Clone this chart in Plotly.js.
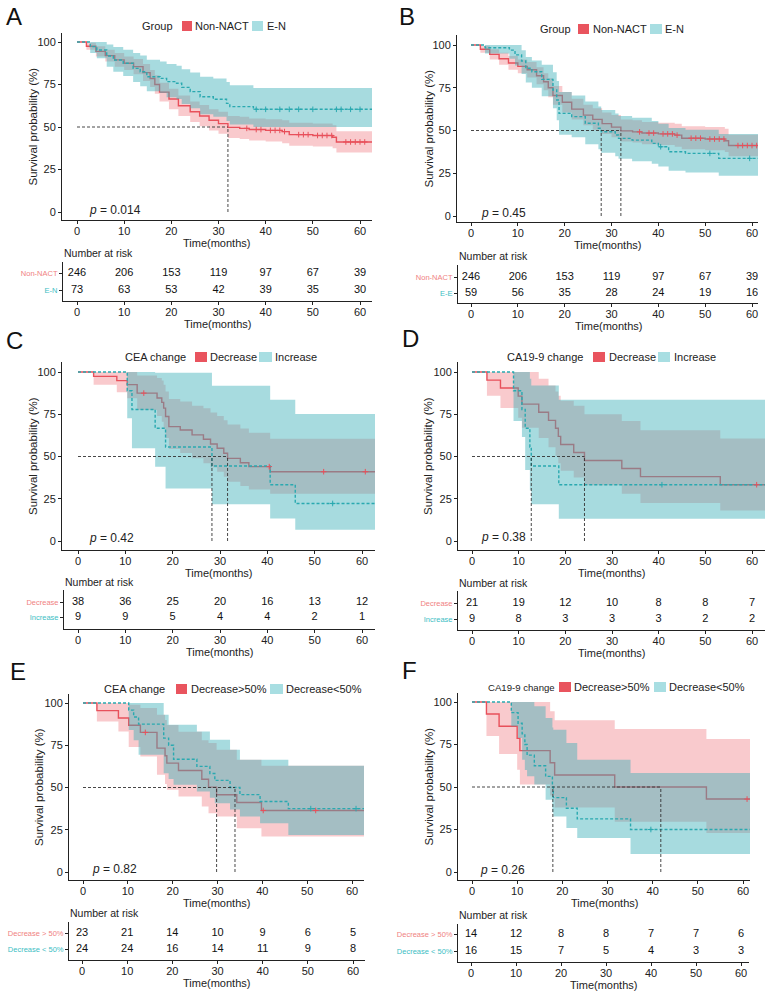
<!DOCTYPE html>
<html><head><meta charset="utf-8">
<script src="https://cdn.plot.ly/plotly-3.0.1.min.js"></script>
<style>html,body{margin:0;padding:0;background:#fff}#chart{width:769px;height:994px}</style>
</head><body><div id="chart"></div>
<script>
// ---------------- DATA ----------------
const timeTicks = [0, 10, 20, 30, 40, 50, 60];
const survTicks = [0, 25, 50, 75, 100];

// Non-NACT (shared by A and B)
const nonNactT  = [0,2,4,6,8,10,12,14,15.5,16.5,17.5,19.5,21.5,24,26,28,30,32,34.5,36.5,40,43.5,45,50,54.2,55,63];
const nonNactS  = [100,97.5,94.5,92,89.5,87.5,85.5,82,78.5,75,70.5,66.5,62.5,59,56.5,54,52,49.8,49.2,48.5,48,47.3,45.5,45,44,41.2,41.2];
const nonNactLo = [100,95.5,91.5,88.5,85.5,83.5,81,77,73.5,69.5,65,60.5,56.5,53,50.5,48,46,43.5,43,42,41.5,40.5,39,38.5,37.5,35,35];
const nonNactHi = [100,99.5,97.5,95.5,93.5,91.5,90,87,83.5,80.5,76,72.5,68.5,65,63,60.5,59,56.5,56,55,54.5,54,52.5,52,51,47.5,47.5];
const nonNactCens = [36,38,39,41,42,43,44,47,48,49,51,52,53,54,57,58,59,60,61];

// A: E-N
const aEnT  = [0,2.8,4.2,6.3,7.7,9.8,11.9,13.4,14.8,17.6,19,21.1,22.2,24,26.1,28.9,31.7,32.4,37.4,63];
const aEnS  = [100,97.3,95.3,91.8,89.4,87.5,84.5,82.5,79.6,78.6,76.7,75.7,73.3,70.8,67.8,66.3,63.9,62,60.4,60.4];
const aEnLo = [100,93.5,90.5,85.5,82.5,80,76.5,74,71,70,67.5,66.5,63.5,61,57.5,56,53.5,51.5,50,50];
const aEnHi = [100,100,100,98.5,97,95.5,93.5,92,89.5,88.5,87,86,84,82,79.5,78.5,76.5,74.5,73,73];
const aEnCens = [38,40,43,45,47,50,55,56,58,60];
const aMedians = [32];

// B: E-N (E-E)
const bEnT  = [0,3,8.2,9.4,10.8,11.7,13,15.1,17.5,18.3,18.8,21.5,24.4,27.2,27.8,30.8,31.5,34.4,38.6,40,42.2,45.8,52.9,63];
const bEnS  = [100,98.4,97,94.2,90.6,86.4,84.4,79.9,73.7,67.8,60,58.1,54.2,51.3,49.3,47.4,45.4,44.4,42.5,40.5,37.6,36.6,33.7,33.7];
const bEnLo = [100,95,92,88,83,78,75,70,63,56,47.5,46,42,39,37,35,33.5,32,30.5,29,26.5,25.5,23.5,23.5];
const bEnHi = [100,100,100,100,97,93,91,88.5,84,79,72.5,70.5,67,64,62,60,58.5,57.5,55.5,54,51.5,50.5,48,48];
const bEnCens = [40.5,51,59.5];
const bMedians = [27.8, 32];

// C: CEA change Decrease / Increase
const cDecT  = [0,3.3,8.2,10.4,12.5,16.7,17.7,18.1,18.5,19.2,21.6,24.1,26.5,28,29.4,30.8,31.6,34.3,36.1,40.6,63];
const cDecS  = [100,97.4,94.9,92.5,87.5,84.6,82,78.6,73.7,67.7,65.7,62.8,60.2,57.4,54.9,51.9,48.9,46.3,44,41,41];
const cDecLo = [100,92.5,88,84.5,77.5,74,70.5,66.5,61,54.5,52,49,46,43.5,41,38,35,32.5,30.5,28,28];
const cDecHi = [100,100,100,100,98,96.5,95,92.5,88.5,84,82.5,80,78.5,76,74,71.5,69,66.5,64,60.5,60.5];
const cDecCens = [13.9,40.4,51.9,60.7];
const cIncT  = [0,10.4,11.4,16.3,18.5,28.3,40.6,45.9,63];
const cIncS  = [100,88.9,77.8,66.7,55.6,44.4,33.3,22.2,22.2];
const cIncLo = [100,72.7,54.9,44,31.1,21.8,13.3,6.7,6.7];
const cIncHi = [100,100,100,99.5,99.5,91.9,83.6,75.2,75.2];
const cIncCens = [53.8];
const cMedians = [28.3, 31.6];

// D: CA19-9 change Decrease / Increase
const dDecT  = [0,3.2,6.1,9.9,10.7,14.3,16.4,17.9,18.5,19,21.8,24.1,32.1,36.1,53.2,63];
const dDecS  = [100,95.2,90.5,85.7,81,76.2,71.4,66.7,61.9,57.1,52.4,47.6,42.9,38.1,33.3,33.3];
const dDecLo = [100,86,78.7,73,67,61,55.5,50.5,46,41.5,37.5,33,28,22.5,18,18];
const dDecHi = [100,100,100,100,100,96,92,88.5,86,83,80,75,71,65.5,60.6,60.6];
const dDecCens = [61];
const dIncT  = [0,8.9,10.7,11.4,12.4,12.7,18.6,63];
const dIncS  = [100,88.9,77.8,66.7,55.6,44.4,33.3,33.3];
const dIncLo = [100,71,61.5,42,30,21.7,13.2,13.2];
const dIncHi = [100,100,100,100,96,92,83.6,83.6];
const dIncCens = [40.7];
const dMedians = [12.7, 24.1];

// E: CEA change Decrease>50% / Decrease<50%
const eGtT  = [0,3.1,7.9,10.2,12.8,16.5,18.3,18.7,21.3,26.5,28,29.8,34.3,39.8,63];
const eGtS  = [100,95.5,91.1,86.8,82.6,73.3,68.8,64.4,60.1,54.9,50.2,45.7,41.1,36.4,36.4];
const eGtLo = [100,89,83.2,74,68.4,57.5,52,48.6,44.7,38.7,34.8,32.8,25.9,21,21];
const eGtHi = [100,100,100,99,97,93,90,87,83,78,76.3,72.3,66.4,62.8,62.8];
const eGtCens = [13.9,40.2,51.9];
const eLtT  = [0,10.2,11.3,12.4,18,19.1,20.2,25.4,28.3,29.4,32.8,35,39.5,45.8,63];
const eLtS  = [100,95.8,91.7,87.5,79.2,75,66.7,62.5,58.3,54.2,50,45.8,41.7,37.5,37.5];
const eLtLo = [100,84,78,69.4,58.5,55,51.6,47.6,44,40.7,37,32.8,28.9,21.9,21.9];
const eLtHi = [100,100,100,100,93,87.2,87.2,83.2,78.3,78.3,72.3,66.4,66.4,62.8,62.8];
const eLtCens = [50.8,60.9];
const eMedians = [29.8, 33.9];

// F: CA19-9 change Decrease>50% / Decrease<50%
const fGtT  = [0,3.2,6,10,10.6,17.3,18.3,31.6,51.9,63];
const fGtS  = [100,92.9,85.7,78.6,71.4,64.3,57.1,50,42.9,42.9];
const fGtLo = [100,80,69.4,60.2,51.4,45,38,29.5,23,23];
const fGtHi = [100,100,100,100,100,94.5,89.2,84.1,78.2,78.2];
const fGtCens = [60.9];
const fLtT  = [0,8.7,10.2,11.1,11.7,12.2,13.8,16.3,17.8,18,20.9,23.3,35.1,63];
const fLtS  = [100,93.75,87.5,81.25,75,68.75,62.5,56.25,50,43.75,37.5,31.25,25,25];
const fLtLo = [100,85.7,78.8,66,60,56.3,51.4,42.5,35,32.7,25.9,20,10.6,10.6];
const fLtHi = [100,100,100,100,100,100,97.5,90.6,85,83.7,75.9,66.1,58.2,58.2];
const fLtCens = [39.6];
const fMedians = [17.9, 41.8];

// Legend / labels
const legendTitles = ['Group','Group','CEA change','CA19-9 change','CEA change','CA19-9 change'];
const redNames  = ['Non-NACT','Non-NACT','Decrease','Decrease','Decrease>50%','Decrease>50%'];
const tealNames = ['E-N','E-N','Increase','Increase','Decrease<50%','Decrease<50%'];
const redRowLabels  = ['Non-NACT','Non-NACT','Decrease','Decrease','Decrease > 50%','Decrease > 50%'];
const tealRowLabels = ['E-N','E-E','Increase','Increase','Decrease < 50%','Decrease < 50%'];
const pValues = ['0.014','0.45','0.42','0.38','0.82','0.26'];
const panelLetters = ['A','B','C','D','E','F'];
const xTitle = 'Time(months)';
const yTitle = 'Survival probability (%)';
const tableTitle = 'Number at risk';

// Number at risk
const riskRed  = [[246,206,153,119,97,67,39],[246,206,153,119,97,67,39],[38,36,25,20,16,13,12],[21,19,12,10,8,8,7],[23,21,14,10,9,6,5],[14,12,8,8,7,7,6]];
const riskTeal = [[73,63,53,42,39,35,30],[59,56,35,28,24,19,16],[9,9,5,4,4,2,1],[9,8,3,3,3,2,2],[24,24,16,14,11,9,8],[16,15,7,5,4,3,3]];

// ---------------- STYLE / LAYOUT ----------------
const W = 769, H = 994;
const FONT = 'Liberation Sans, Arial, Helvetica, sans-serif';
const RED = '#E8505B', TEAL = '#2AA9B0';
const RED_FILL = 'rgba(235,80,90,0.30)', TEAL_FILL = 'rgba(60,175,185,0.45)';
const RED_KEY = '#E9545E', TEAL_KEY = '#A8DEE2';
const RED_LBL = 'rgb(240,130,130)', TEAL_LBL = 'rgb(60,190,196)';
const AX = '#222';
const px = x => x / W, py = y => 1 - y / H;

const curves = [
  {red:[nonNactT,nonNactS,nonNactLo,nonNactHi,nonNactCens], teal:[aEnT,aEnS,aEnLo,aEnHi,aEnCens], med:aMedians},
  {red:[nonNactT,nonNactS,nonNactLo,nonNactHi,nonNactCens], teal:[bEnT,bEnS,bEnLo,bEnHi,bEnCens], med:bMedians},
  {red:[cDecT,cDecS,cDecLo,cDecHi,cDecCens], teal:[cIncT,cIncS,cIncLo,cIncHi,cIncCens], med:cMedians},
  {red:[dDecT,dDecS,dDecLo,dDecHi,dDecCens], teal:[dIncT,dIncS,dIncLo,dIncHi,dIncCens], med:dMedians},
  {red:[eGtT,eGtS,eGtLo,eGtHi,eGtCens], teal:[eLtT,eLtS,eLtLo,eLtHi,eLtCens], med:eMedians},
  {red:[fGtT,fGtS,fGtLo,fGtHi,fGtCens], teal:[fLtT,fLtS,fLtLo,fLtHi,fLtCens], med:fMedians}
];

// pixel geometry of each KM plot (+ position of axis titles)
const kmGeom = [
  {xL:62, x0:77, x60:360, xR:372, yT:33,  y100:42,  y0:212, yB:220, xt:243, yt:33},
  {xL:457,x0:471,x60:752, xR:758, yT:35,  y100:45,  y0:216, yB:222, xt:245, yt:428},
  {xL:62, x0:78, x60:362, xR:375, yT:362, y100:372, y0:541, yB:550, xt:573, yt:33},
  {xL:458,x0:472,x60:752, xR:765, yT:362, y100:372, y0:541, yB:550, xt:573, yt:428},
  {xL:69, x0:83, x60:352, xR:364, yT:694, y100:703, y0:872, yB:880, xt:903, yt:39},
  {xL:458,x0:472,x60:743, xR:750, yT:693, y100:702, y0:872, yB:880, xt:903, yt:428}
];
// pixel geometry of each risk table
const tbGeom = [
  {xL:63, x0:77, x60:360, xR:372, yT:262, r1:273, r2:290, yB:301, nar:253, xt:324},
  {xL:458,x0:471,x60:752, xR:758, yT:265, r1:277, r2:293, yB:303, nar:256, xt:326},
  {xL:64, x0:78, x60:362, xR:375, yT:590, r1:602, r2:617, yB:629, nar:582, xt:652},
  {xL:458,x0:472,x60:752, xR:765, yT:591, r1:603, r2:619, yB:630, nar:583, xt:653},
  {xL:69, x0:82, x60:353, xR:365, yT:922, r1:933, r2:949, yB:960, nar:913, xt:983},
  {xL:458,x0:471,x60:741, xR:749, yT:924, r1:934, r2:951, yB:962, nar:915, xt:985}
];
// legend pixel positions: [y, titleLeft, redL, redR, redTextL, tealL, tealR, tealTextL, titleFontSize]
const legGeom = [
  [26, 140, 182, 192, 193, 252, 263, 265, 11],
  [29, 538, 578, 589, 591, 650, 662, 663, 11],
  [357,123, 195, 207, 208, 259, 272, 273, 11],
  [357,505, 593, 605, 607, 658, 670, 672, 11],
  [689,102, 176, 187, 189, 270, 283, 284, 11],
  [687,486, 559, 571, 572, 654, 666, 667, 9.6]
];
const letterPos = [[4,17],[397,17],[4,340],[400,338],[8,671],[400,670]];
const pPos = [[87,210],[479,213],[87,538],[479,537],[90,869],[478,870]];

function xr(g){const s=(g.x60-g.x0)/60; return [(g.xL-g.x0)/s,(g.xR-g.x0)/s];}
function yr(g){const s=(g.y0-g.y100)/100; return [(g.y0-g.yB)/s,(g.y0-g.yT)/s];}
function stepAt(T,S,t){let v=S[0]; for(let i=0;i<T.length;i++){ if(T[i]<=t) v=S[i]; } return v;}

const traces = [];
const layout = {
  width:W, height:H, margin:{l:0,r:0,t:0,b:0}, showlegend:false,
  paper_bgcolor:'#fff', plot_bgcolor:'rgba(0,0,0,0)',
  font:{family:FONT, color:AX},
  annotations:[], shapes:[]
};

const axCommon = {showline:true, linecolor:AX, linewidth:1, ticks:'outside', ticklen:3, tickwidth:1,
  tickcolor:AX, showgrid:false, zeroline:false, fixedrange:true, tickfont:{size:11, color:AX, family:FONT}};

function ann(x, y, text, size, opts){
  layout.annotations.push(Object.assign({xref:'paper', yref:'paper', x:px(x), y:py(y), xanchor:'left', yanchor:'middle',
    text:text, showarrow:false, font:{size:size, color:'#222', family:FONT}}, opts||{}));
}

curves.forEach((c, i) => {
  const n = 2*i+1, m = 2*i+2;
  const xa = 'x'+(n===1?'':n), ya = 'y'+(n===1?'':n);
  const xt = 'x'+m, yt = 'y'+m;
  const g = kmGeom[i], t = tbGeom[i];

  const band = (d, fill) => {
    const [T,S,Lo,Hi] = d;
    traces.push({x:T, y:Lo, xaxis:xa, yaxis:ya, mode:'lines', line:{width:0, shape:'hv', color:'rgba(0,0,0,0)'}, hoverinfo:'skip'});
    traces.push({x:T, y:Hi, xaxis:xa, yaxis:ya, mode:'lines', fill:'tonexty', fillcolor:fill, line:{width:0, shape:'hv', color:'rgba(0,0,0,0)'}, hoverinfo:'skip'});
  };
  const line = (d, col, dash) => {
    const [T,S] = d;
    traces.push({x:T, y:S, xaxis:xa, yaxis:ya, mode:'lines', line:{width:1.4, shape:'hv', color:col, dash:dash}, hoverinfo:'skip'});
  };
  const cens = (d, col) => {
    const [T,S,,,C] = d;
    traces.push({x:C, y:C.map(tt=>stepAt(T,S,tt)), xaxis:xa, yaxis:ya, mode:'markers',
      marker:{symbol:'cross-thin', size:4, color:col, line:{width:1, color:col}}, hoverinfo:'skip'});
  };
  band(c.red, RED_FILL);
  line(c.red, RED, 'solid');
  band(c.teal, TEAL_FILL);
  line(c.teal, TEAL, '3px,2px');
  cens(c.red, RED);
  cens(c.teal, TEAL);

  // median lines
  const mMax = Math.max(...c.med);
  traces.push({x:[0,mMax], y:[50,50], xaxis:xa, yaxis:ya, mode:'lines', line:{color:'#333', width:0.9, dash:'3px,2px'}, hoverinfo:'skip'});
  c.med.forEach(md => traces.push({x:[md,md], y:[0,50], xaxis:xa, yaxis:ya, mode:'lines', line:{color:'#333', width:0.9, dash:'3px,2px'}, hoverinfo:'skip'}));

  layout['xaxis'+(n===1?'':n)] = Object.assign({}, axCommon, {
    domain:[px(g.xL), px(g.xR)], range:xr(g), anchor:ya, tickvals:timeTicks, ticktext:timeTicks.map(String), ticklabelstandoff:-2});
  layout['yaxis'+(n===1?'':n)] = Object.assign({}, axCommon, {
    domain:[py(g.yB), py(g.yT)], range:yr(g), anchor:xa, tickvals:survTicks, ticktext:survTicks.map(String)});
  // axis titles
  ann((g.xL+g.xR)/2, g.xt, xTitle, 11, {xanchor:'center'});
  ann(g.yt, (g.yT+g.yB)/2, yTitle, 11.5, {xanchor:'center', textangle:-90});

  // risk table
  const s = t.r2 - t.r1;
  traces.push({x:timeTicks, y:timeTicks.map(()=>2), text:riskRed[i].map(String), xaxis:xt, yaxis:yt, mode:'text',
    textfont:{size:11, color:'#111', family:FONT}, hoverinfo:'skip'});
  traces.push({x:timeTicks, y:timeTicks.map(()=>1), text:riskTeal[i].map(String), xaxis:xt, yaxis:yt, mode:'text',
    textfont:{size:11, color:'#111', family:FONT}, hoverinfo:'skip'});
  layout['xaxis'+m] = Object.assign({}, axCommon, {
    domain:[px(t.xL), px(t.xR)], range:xr(t), anchor:yt, tickvals:timeTicks, ticktext:timeTicks.map(String), ticklabelstandoff:-2});
  layout['yaxis'+m] = Object.assign({}, axCommon, {
    domain:[py(t.yB), py(t.yT)], range:[1-(t.yB-t.r2)/s, 1+(t.r2-t.yT)/s], anchor:xt, tickvals:[2,1],
    ticktext:['<span style="color:'+RED_LBL+'">'+redRowLabels[i]+'</span>', '<span style="color:'+TEAL_LBL+'">'+tealRowLabels[i]+'</span>'],
    tickfont:{size:7.5, family:FONT}});
  ann((t.xL+t.xR)/2, t.xt, xTitle, 11, {xanchor:'center'});
  ann(t.xL-1, t.nar, tableTitle, 10.5);

  // legend
  const L = legGeom[i];
  ann(L[1], L[0], legendTitles[i], L[8]);
  ann(L[4], L[0], redNames[i], 11);
  ann(L[7], L[0], tealNames[i], 11);
  layout.shapes.push({type:'rect', xref:'paper', yref:'paper', x0:px(L[2]), x1:px(L[3]), y0:py(L[0]+5), y1:py(L[0]-5), fillcolor:RED_KEY, line:{width:0}});
  layout.shapes.push({type:'rect', xref:'paper', yref:'paper', x0:px(L[5]), x1:px(L[6]), y0:py(L[0]+5), y1:py(L[0]-5), fillcolor:TEAL_KEY, line:{width:0}});

  // panel letter and p value
  ann(letterPos[i][0], letterPos[i][1], panelLetters[i], 24, {font:{size:24, color:'#111', family:FONT}});
  ann(pPos[i][0], pPos[i][1], '<i>p</i> = '+pValues[i], 12);
});

Plotly.newPlot('chart', traces, layout, {staticPlot:true, displayModeBar:false});
</script></body></html>
